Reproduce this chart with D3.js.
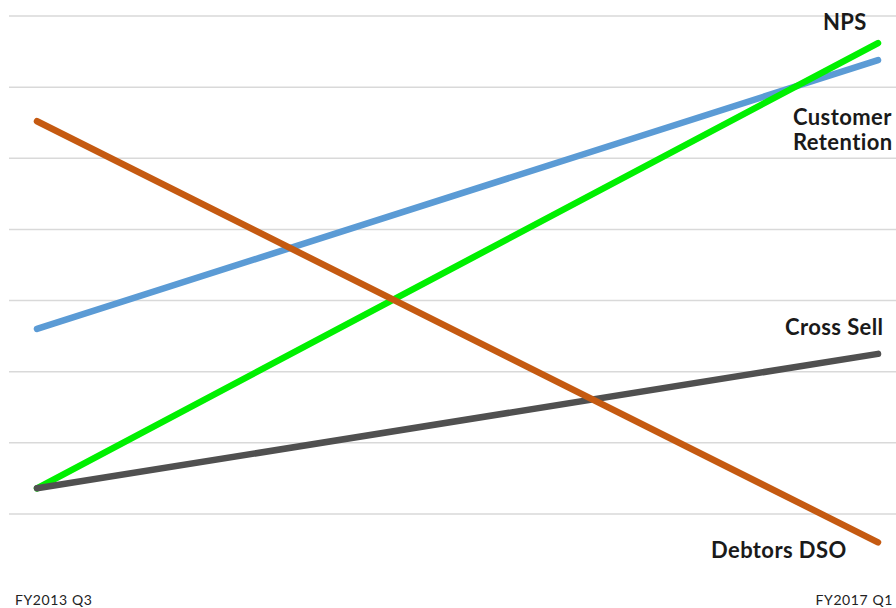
<!DOCTYPE html>
<html>
<head>
<meta charset="utf-8">
<script src="https://cdn.jsdelivr.net/npm/d3@7"></script>
<style>
  body { margin: 0; background: #fff; }
  svg { display: block; }
  .lbl { font-family: Lato, "Open Sans", sans-serif; font-weight: 700; fill: #1a1a1a; }
  .axis-lbl { font-family: Lato, "Open Sans", sans-serif; fill: #222; }
</style>
</head>
<body>
<svg id="chart" width="896" height="608"></svg>
<script>
// two periods only, first and last quarter
var periods = ["FY2013 Q3", "FY2017 Q1"];

// values (arbitrary index units, gridlines at 1..8)
var customerRetention = [3.60, 7.38];
var nps = [1.36, 7.62];
var crossSell = [1.36, 3.25];
var debtorsDso = [6.52, 0.60];

var gridValues = [1, 2, 3, 4, 5, 6, 7, 8];

var series = [
  { name: "Customer Retention", values: customerRetention, color: "#5b9bd5" },
  { name: "NPS", values: nps, color: "#00f000" },
  { name: "Cross Sell", values: crossSell, color: "#505050" },
  { name: "Debtors DSO", values: debtorsDso, color: "#c55a11" }
];

var svg = d3.select("#chart");

var x = d3.scalePoint()
    .domain(periods)
    .range([37, 878]);

var y = d3.scaleLinear()
    .domain([0, 8])
    .range([585, 16]);

// gridlines
svg.append("g")
  .selectAll("line")
  .data(gridValues)
  .enter()
  .append("line")
    .attr("x1", 9)
    .attr("x2", 896)
    .attr("y1", function (d) { return y(d); })
    .attr("y2", function (d) { return y(d); })
    .attr("stroke", "#d9d9d9")
    .attr("stroke-width", 1.5);

var line = d3.line()
    .x(function (d, i) { return x(periods[i]); })
    .y(function (d) { return y(d); });

svg.append("g")
  .selectAll("path")
  .data(series)
  .enter()
  .append("path")
    .attr("d", function (d) { return line(d.values); })
    .attr("fill", "none")
    .attr("stroke", function (d) { return d.color; })
    .attr("stroke-width", 6.5)
    .attr("stroke-linecap", "round");

// series labels near the right end
var labels = [
  { lines: ["NPS"], x: 823, y: 30 },
  { lines: ["Customer", "Retention"], x: 793, y: 125 },
  { lines: ["Cross Sell"], x: 785, y: 335 },
  { lines: ["Debtors DSO"], x: 711, y: 558 }
];

labels.forEach(function (l) {
  var t = svg.append("text")
      .attr("class", "lbl")
      .attr("x", l.x)
      .attr("y", l.y)
      .style("font-size", "22px")
      .style("letter-spacing", "0.4px");
  l.lines.forEach(function (s, i) {
    t.append("tspan")
      .attr("x", l.x)
      .attr("dy", i === 0 ? 0 : 25)
      .text(s);
  });
});

// category labels at the bottom
svg.append("text")
    .attr("class", "axis-lbl")
    .attr("x", 15)
    .attr("y", 605)
    .style("font-size", "14px")
    .style("letter-spacing", "0.6px")
    .text(periods[0]);

svg.append("text")
    .attr("class", "axis-lbl")
    .attr("x", 893)
    .attr("y", 605)
    .attr("text-anchor", "end")
    .style("font-size", "14px")
    .style("letter-spacing", "0.6px")
    .text(periods[1]);
</script>
</body>
</html>
